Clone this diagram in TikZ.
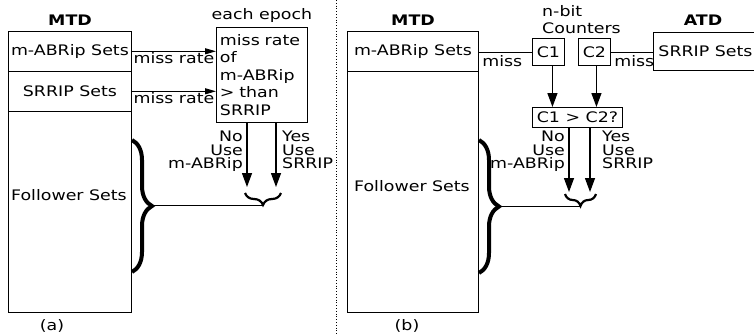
\documentclass[tikz,border=0pt]{standalone}
\usepackage{fontspec}
\setmainfont{DejaVu Sans}[FakeStretch=1.2]
\usetikzlibrary{arrows.meta,decorations.pathreplacing}

\begin{document}
\begin{tikzpicture}[x=1pt, y=-1pt,
    every node/.style={font=\fontsize{14.5}{13.3}\selectfont},
    setbox/.style={draw, line width=0.9pt, anchor=north west, inner sep=0pt},
    boldlab/.style={font=\fontsize{14.5}{14}\selectfont\bfseries},
    thinline/.style={line width=0.9pt},
    arrowh/.style={line width=0.9pt, -{Triangle[length=11pt, width=6pt]}},
    arrowv/.style={line width=1.3pt, -{Triangle[length=14pt, width=10pt]}},
    smallbrace/.style={decorate, decoration={brace, amplitude=12pt}, line width=2.2pt},
    bigbrace/.style={decorate, decoration={brace, amplitude=20pt}, line width=4pt}]
    \useasboundingbox (0,0) rectangle (754,335);

    % (a)
    \node[boldlab] (mtda) at (70,20) {MTD};
    \node[setbox, minimum width=123, minimum height=39.7] (abripa) at (8,31) {m-ABRip Sets};
    \node[setbox, minimum width=123, minimum height=40.3] (srripa) at (8,70.7) {SRRIP Sets};
    \node[setbox, minimum width=123, minimum height=201] (fola) at (8,111) {};
    \node (folalab) at (69,195) {Follower Sets};
    \node[setbox, minimum width=91, minimum height=95, text width=84, align=left, inner sep=3.5pt,
          font=\fontsize{14.5}{17.5}\selectfont] (deca) at (216,27) {miss rate\\of\\m-ABRip\\> than\\SRRIP};
    \node[above=1pt] (epocha) at (deca.north) {each epoch};
    \draw[arrowh] (abripa.east) -- (abripa.east -| deca.west)
        node[pos=.5, anchor=north, inner sep=1pt] {miss rate};
    \draw[arrowh] (srripa.east) -- (srripa.east -| deca.west)
        node[pos=.5, anchor=north, inner sep=1pt] {miss rate};
    \coordinate (noa) at (247,187);
    \coordinate (yesa) at (276,187);
    \draw[arrowv] (deca.south -| noa) -- (noa);
    \draw[arrowv] (deca.south -| yesa) -- (yesa);
    \node[anchor=north east, align=right, inner sep=0pt] (noalab) at (243,131) {No\\Use\\m-ABRip};
    \node[anchor=north west, align=left, inner sep=0pt] (yesalab) at (282,131) {Yes\\Use\\SRRIP};
    \coordinate (sba1) at (281,193);
    \coordinate (sba2) at (245,193);
    \coordinate (sbtipa) at (263,205);
    \draw[smallbrace] (sba1) -- (sba2);
    \coordinate (bba1) at (132,140);
    \coordinate (bba2) at (132,272);
    \coordinate (bbtipa) at (152,205);
    \draw[bigbrace] (bba1) -- (bba2);
    \draw[thinline] (bbtipa) -- (sbtipa);
    \node (capa) at (52,326) {(a)};

    \draw[dotted, line width=0.8pt] (336,0) -- (336,335);

    % (b)
    \node[boldlab] (mtdb) at (413,20) {MTD};
    \node[setbox, minimum width=131, minimum height=39.7] (abripb) at (347,31) {m-ABRip Sets};
    \node[setbox, minimum width=131, minimum height=241.3] (folb) at (347,70.7) {};
    \node (folblab) at (412,186) {Follower Sets};
    \node[setbox, minimum width=32, minimum height=27] (cone) at (532,38) {C1};
    \node[setbox, minimum width=32, minimum height=27] (ctwo) at (578,38) {C2};
    \node[anchor=north west, align=left, inner sep=0pt, font=\fontsize{14.5}{17}\selectfont] (cntlab) at (542,5) {n-bit\\Counters};
    \node[boldlab] (atdlab) at (703,20) {ATD};
    \node[setbox, minimum width=104, minimum height=38] (srripb) at (653,32) {SRRIP Sets};
    \draw[thinline] (abripb.east |- cone.west) -- (cone.west)
        node[pos=0, anchor=north west, inner sep=3pt] {miss};
    \draw[thinline] (ctwo.east) -- (ctwo.east -| srripb.west)
        node[pos=0, anchor=north west, inner sep=3pt] {miss};
    \node[setbox, minimum width=90, minimum height=20] (decb) at (532,107) {C1 > C2?};
    \draw[arrowv] ([xshift=4pt]cone.south) -- ([xshift=4pt]cone.south |- decb.north);
    \draw[arrowv] ([xshift=2pt]ctwo.south) -- ([xshift=2pt]ctwo.south |- decb.north);
    \coordinate (nob) at (569,192);
    \coordinate (yesb) at (590,192);
    \draw[arrowv] (decb.south -| nob) -- (nob);
    \draw[arrowv] (decb.south -| yesb) -- (yesb);
    \node[anchor=north east, align=right, inner sep=0pt] (noblab) at (565,131) {No\\Use\\m-ABRip};
    \node[anchor=north west, align=left, inner sep=0pt] (yesblab) at (602,131) {Yes\\Use\\SRRIP};
    \coordinate (sbb1) at (596,194);
    \coordinate (sbb2) at (565,194);
    \coordinate (sbtipb) at (580.5,206.5);
    \draw[smallbrace] (sbb1) -- (sbb2);
    \coordinate (bbb1) at (479,140);
    \coordinate (bbb2) at (479,273);
    \coordinate (bbtipb) at (499,206.5);
    \draw[bigbrace] (bbb1) -- (bbb2);
    \draw[thinline] (bbtipb) -- (sbtipb);
    \node (capb) at (407,326) {(b)};
\end{tikzpicture}
\end{document}
